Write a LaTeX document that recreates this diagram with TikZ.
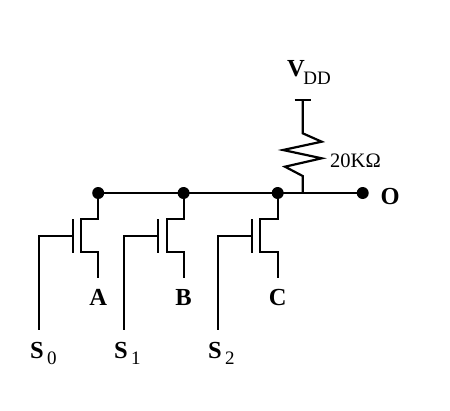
\documentclass[tikz,border=0pt]{standalone}
\usepackage{fontspec}
\setmainfont{Liberation Serif}
\tikzset{
  wire/.style={draw=black,line width=2.2pt,line cap=butt,line join=miter},
  junction/.style={circle,fill=black,inner sep=0pt,minimum size=12pt},
  lab/.style={font=\fontsize{24.5}{24}\selectfont\bfseries,inner sep=0pt,anchor=base},
  sublab/.style={font=\fontsize{19}{20}\selectfont,inner sep=0pt,anchor=base west},
  val/.style={font=\fontsize{20.5}{20}\selectfont,inner sep=0pt,anchor=base west}
}
\begin{document}
\begin{tikzpicture}[x=1pt,y=-1pt]
\useasboundingbox[fill=white] (0,0) rectangle (450,410);
% junctions
\node[junction] (ja) at (98.2,193) {};
\node[junction] (jb) at (183.6,193) {};
\node[junction] (jc) at (277.7,193) {};
\node[junction] (jo) at (362.7,193) {};
\coordinate (rb) at (302.7,193);
\coordinate (vt) at (302.7,100);
\draw[wire] (ja.center) -- (jb.center) -- (jc.center) -- (rb) -- (jo.center);
% supply and resistor
\draw[wire] (294.7,100) -- (311.3,100);
\draw[wire] (vt) -- (302.7,133.3) -- (321.7,141.7) -- (283,150) -- (321.7,158.3) -- (285,166.7) -- (302.7,176) -- (rb);
% transistors
\foreach \j/\dx/\gx/\cx/\lx/\n in {ja/98.2/73/80.7/38.7/a,jb/183.6/158/166.7/124/b,jc/277.7/252/260/217.7/c}{
  \coordinate (end\n) at (\dx,278.3);
  \coordinate (sel\n) at (\lx,330);
  \draw[wire] (\j.center) -- (\dx,218.7) -- (\cx,218.7) -- (\cx,252.3) -- (\dx,252.3) -- (end\n);
  \draw[wire] (\gx,219) -- (\gx,253);
  \draw[wire] (\gx,236) -- (\lx,236) -- (sel\n);
}
% labels
\node[lab] (la) at (98.2,305) {A};
\node[lab] (lb) at (183.6,305) {B};
\node[lab] (lc) at (277.7,305) {C};
\node[lab,anchor=base west] (lo) at (380.5,204) {O};
\node[lab,anchor=base west] (s0) at (30,358.5) {S};
\node[sublab] (s0s) at (s0.base east) [xshift=3pt,yshift=-5.7pt] {0};
\node[lab,anchor=base west] (s1) at (114,358.5) {S};
\node[sublab] (s1s) at (s1.base east) [xshift=3pt,yshift=-5.7pt] {1};
\node[lab,anchor=base west] (s2) at (208,358.5) {S};
\node[sublab] (s2s) at (s2.base east) [xshift=3pt,yshift=-5.7pt] {2};
\node[lab,anchor=base west] (v) at (287,76.5) {V};
\node[sublab] (vs) at (v.base east) [yshift=-7.5pt,xshift=-2pt] {DD};
\node[val] (r) at (330,167.3) {20KΩ};
\end{tikzpicture}
\end{document}
